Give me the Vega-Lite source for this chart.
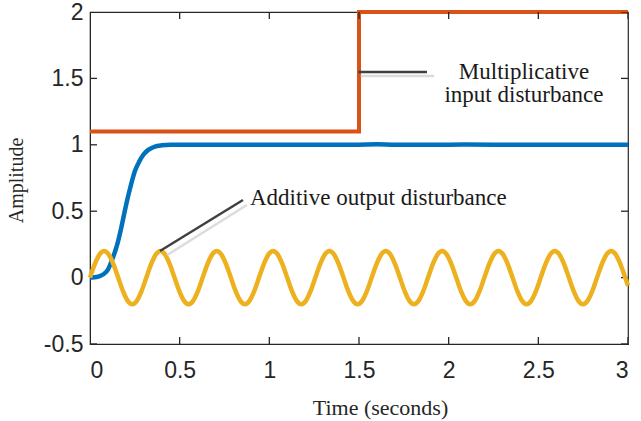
{
  "$schema": "https://vega.github.io/schema/vega-lite/v6.json",
  "width": 538,
  "height": 332,
  "autosize": "none",
  "padding": {"left": 90, "top": 12, "right": 13, "bottom": 77},
  "background": "white",
  "config": {
    "view": {"stroke": "#262626", "strokeWidth": 1.2}
  },
  "datasets": {
    "step": [{"t": 0, "y": 1.1}, {"t": 1.5, "y": 2}, {"t": 3, "y": 2}],
    "resp": [
      {"t": 0, "y": 0}, {"t": 0.025, "y": 0.002}, {"t": 0.05, "y": 0.01}, {"t": 0.075, "y": 0.025},
      {"t": 0.1, "y": 0.06}, {"t": 0.125, "y": 0.14}, {"t": 0.15, "y": 0.24}, {"t": 0.175, "y": 0.38},
      {"t": 0.2, "y": 0.54}, {"t": 0.225, "y": 0.68}, {"t": 0.25, "y": 0.8}, {"t": 0.275, "y": 0.875},
      {"t": 0.3, "y": 0.93}, {"t": 0.325, "y": 0.962}, {"t": 0.35, "y": 0.98}, {"t": 0.375, "y": 0.991},
      {"t": 0.4, "y": 0.996}, {"t": 0.45, "y": 1.0}, {"t": 0.6, "y": 1.001}, {"t": 0.8, "y": 1.0},
      {"t": 1.0, "y": 1.001}, {"t": 1.2, "y": 1.0}, {"t": 1.4, "y": 1.0}, {"t": 1.5, "y": 1.001},
      {"t": 1.6, "y": 1.004}, {"t": 1.7, "y": 1.0}, {"t": 1.9, "y": 1.0}, {"t": 2.1, "y": 1.002},
      {"t": 2.4, "y": 1.0}, {"t": 2.7, "y": 1.001}, {"t": 3.0, "y": 1.0}
    ],
    "sine": [
      {"t": 0, "y": 0}, {"t": 0.0262, "y": 0.1}, {"t": 0.0524, "y": 0.1732}, {"t": 0.0785, "y": 0.2}, {"t": 0.1047, "y": 0.1732}, {"t": 0.1309, "y": 0.1},
      {"t": 0.1571, "y": 0}, {"t": 0.1833, "y": -0.1}, {"t": 0.2094, "y": -0.1732}, {"t": 0.2356, "y": -0.2}, {"t": 0.2618, "y": -0.1732}, {"t": 0.288, "y": -0.1},
      {"t": 0.3142, "y": 0}, {"t": 0.3403, "y": 0.1}, {"t": 0.3665, "y": 0.1732}, {"t": 0.3927, "y": 0.2}, {"t": 0.4189, "y": 0.1732}, {"t": 0.4451, "y": 0.1},
      {"t": 0.4712, "y": 0}, {"t": 0.4974, "y": -0.1}, {"t": 0.5236, "y": -0.1732}, {"t": 0.5498, "y": -0.2}, {"t": 0.576, "y": -0.1732}, {"t": 0.6021, "y": -0.1},
      {"t": 0.6283, "y": 0}, {"t": 0.6545, "y": 0.1}, {"t": 0.6807, "y": 0.1732}, {"t": 0.7069, "y": 0.2}, {"t": 0.733, "y": 0.1732}, {"t": 0.7592, "y": 0.1},
      {"t": 0.7854, "y": 0}, {"t": 0.8116, "y": -0.1}, {"t": 0.8378, "y": -0.1732}, {"t": 0.8639, "y": -0.2}, {"t": 0.8901, "y": -0.1732}, {"t": 0.9163, "y": -0.1},
      {"t": 0.9425, "y": 0}, {"t": 0.9687, "y": 0.1}, {"t": 0.9948, "y": 0.1732}, {"t": 1.021, "y": 0.2}, {"t": 1.0472, "y": 0.1732}, {"t": 1.0734, "y": 0.1},
      {"t": 1.0996, "y": 0}, {"t": 1.1257, "y": -0.1}, {"t": 1.1519, "y": -0.1732}, {"t": 1.1781, "y": -0.2}, {"t": 1.2043, "y": -0.1732}, {"t": 1.2305, "y": -0.1},
      {"t": 1.2566, "y": 0}, {"t": 1.2828, "y": 0.1}, {"t": 1.309, "y": 0.1732}, {"t": 1.3352, "y": 0.2}, {"t": 1.3614, "y": 0.1732}, {"t": 1.3875, "y": 0.1},
      {"t": 1.4137, "y": 0}, {"t": 1.4399, "y": -0.1}, {"t": 1.4661, "y": -0.1732}, {"t": 1.4923, "y": -0.2}, {"t": 1.5184, "y": -0.1732}, {"t": 1.5446, "y": -0.1},
      {"t": 1.5708, "y": 0}, {"t": 1.597, "y": 0.1}, {"t": 1.6232, "y": 0.1732}, {"t": 1.6493, "y": 0.2}, {"t": 1.6755, "y": 0.1732}, {"t": 1.7017, "y": 0.1},
      {"t": 1.7279, "y": 0}, {"t": 1.7541, "y": -0.1}, {"t": 1.7802, "y": -0.1732}, {"t": 1.8064, "y": -0.2}, {"t": 1.8326, "y": -0.1732}, {"t": 1.8588, "y": -0.1},
      {"t": 1.885, "y": 0}, {"t": 1.9111, "y": 0.1}, {"t": 1.9373, "y": 0.1732}, {"t": 1.9635, "y": 0.2}, {"t": 1.9897, "y": 0.1732}, {"t": 2.0159, "y": 0.1},
      {"t": 2.042, "y": 0}, {"t": 2.0682, "y": -0.1}, {"t": 2.0944, "y": -0.1732}, {"t": 2.1206, "y": -0.2}, {"t": 2.1468, "y": -0.1732}, {"t": 2.1729, "y": -0.1},
      {"t": 2.1991, "y": 0}, {"t": 2.2253, "y": 0.1}, {"t": 2.2515, "y": 0.1732}, {"t": 2.2777, "y": 0.2}, {"t": 2.3038, "y": 0.1732}, {"t": 2.33, "y": 0.1},
      {"t": 2.3562, "y": 0}, {"t": 2.3824, "y": -0.1}, {"t": 2.4086, "y": -0.1732}, {"t": 2.4347, "y": -0.2}, {"t": 2.4609, "y": -0.1732}, {"t": 2.4871, "y": -0.1},
      {"t": 2.5133, "y": 0}, {"t": 2.5395, "y": 0.1}, {"t": 2.5656, "y": 0.1732}, {"t": 2.5918, "y": 0.2}, {"t": 2.618, "y": 0.1732}, {"t": 2.6442, "y": 0.1},
      {"t": 2.6704, "y": 0}, {"t": 2.6965, "y": -0.1}, {"t": 2.7227, "y": -0.1732}, {"t": 2.7489, "y": -0.2}, {"t": 2.7751, "y": -0.1732}, {"t": 2.8013, "y": -0.1},
      {"t": 2.8274, "y": 0}, {"t": 2.8536, "y": 0.1}, {"t": 2.8798, "y": 0.1732}, {"t": 2.906, "y": 0.2}, {"t": 2.9322, "y": 0.1732}, {"t": 2.9583, "y": 0.1},
      {"t": 2.9845, "y": 0}, {"t": 3.0, "y": -0.061}
    ],
    "shadows": [
      {"t": 1.51, "y": 1.518, "t2": 1.92, "y2": 1.518},
      {"t": 0.43, "y": 0.17, "t2": 0.875, "y2": 0.547}
    ],
    "pointers": [
      {"t": 1.496, "y": 1.548, "t2": 1.879, "y2": 1.548},
      {"t": 0.39, "y": 0.2, "t2": 0.853, "y2": 0.584}
    ],
    "labelsC": [{"t": 2.42, "y": 1.548, "label": "Multiplicative\ninput disturbance"}],
    "labelsL": [{"t": 0.892, "y": 0.6, "label": "Additive output disturbance"}],
    "xticks": [{"v": 0}, {"v": 0.5}, {"v": 1}, {"v": 1.5}, {"v": 2}, {"v": 2.5}, {"v": 3}],
    "yticks": [{"v": -0.5}, {"v": 0}, {"v": 0.5}, {"v": 1}, {"v": 1.5}, {"v": 2}]
  },
  "layer": [
    {
      "data": {"name": "step"},
      "mark": {"type": "line", "color": "#D95319", "strokeWidth": 4, "interpolate": "step-after"},
      "encoding": {
        "x": {
          "field": "t", "type": "quantitative",
          "scale": {"domain": [0, 3], "nice": false, "zero": false},
          "axis": {
            "orient": "bottom",
            "values": [0, 0.5, 1, 1.5, 2, 2.5, 3],
            "labelExpr": "toString(datum.value)",
            "grid": false,
            "domainColor": "#262626",
            "ticks": false,
            "tickSize": 0,
            "labelPadding": 15,
            "labelFont": "Liberation Sans",
            "labelFontSize": 23,
            "labelColor": "#262626",
            "title": "Time (seconds)",
            "titleFont": "Liberation Serif",
            "titleFontWeight": "normal",
            "titleColor": "#262626",
            "titleFontSize": 22,
            "titleX": 290,
            "titleY": 63,
            "titleBaseline": "middle"
          }
        },
        "y": {
          "field": "y", "type": "quantitative",
          "scale": {"domain": [-0.5, 2], "nice": false, "zero": false},
          "axis": {
            "orient": "left",
            "values": [-0.5, 0, 0.5, 1, 1.5, 2],
            "labelExpr": "toString(datum.value)",
            "grid": false,
            "domainColor": "#262626",
            "ticks": false,
            "tickSize": 0,
            "labelPadding": 7,
            "labelFont": "Liberation Sans",
            "labelFontSize": 23,
            "labelColor": "#262626",
            "title": "Amplitude",
            "titleFont": "Liberation Serif",
            "titleFontWeight": "normal",
            "titleColor": "#262626",
            "titleFontSize": 20,
            "titleX": -74,
            "titleY": 168,
            "titleAngle": -90,
            "titleAlign": "center",
            "titleBaseline": "middle"
          }
        }
      }
    },
    {
      "data": {"name": "xticks"},
      "mark": {"type": "tick", "orient": "vertical", "size": 14, "thickness": 1.3, "color": "#262626", "opacity": 1, "clip": true},
      "encoding": {
        "x": {"field": "v", "type": "quantitative"},
        "y": {"datum": -0.5, "type": "quantitative"}
      }
    },
    {
      "data": {"name": "xticks"},
      "mark": {"type": "tick", "orient": "vertical", "size": 14, "thickness": 1.3, "color": "#262626", "opacity": 1, "clip": true},
      "encoding": {
        "x": {"field": "v", "type": "quantitative"},
        "y": {"datum": 2, "type": "quantitative"}
      }
    },
    {
      "data": {"name": "yticks"},
      "mark": {"type": "tick", "orient": "horizontal", "size": 14, "thickness": 1.3, "color": "#262626", "opacity": 1, "clip": true},
      "encoding": {
        "y": {"field": "v", "type": "quantitative"},
        "x": {"datum": 0, "type": "quantitative"}
      }
    },
    {
      "data": {"name": "yticks"},
      "mark": {"type": "tick", "orient": "horizontal", "size": 14, "thickness": 1.3, "color": "#262626", "opacity": 1, "clip": true},
      "encoding": {
        "y": {"field": "v", "type": "quantitative"},
        "x": {"datum": 3, "type": "quantitative"}
      }
    },
    {
      "data": {"name": "resp"},
      "mark": {"type": "line", "color": "#0072BD", "strokeWidth": 4.5, "interpolate": "monotone"},
      "encoding": {
        "x": {"field": "t", "type": "quantitative"},
        "y": {"field": "y", "type": "quantitative"}
      }
    },
    {
      "data": {"name": "sine"},
      "mark": {"type": "line", "color": "#EDB120", "strokeWidth": 4.5, "interpolate": "monotone"},
      "encoding": {
        "x": {"field": "t", "type": "quantitative"},
        "y": {"field": "y", "type": "quantitative"}
      }
    },
    {
      "data": {"name": "shadows"},
      "mark": {"type": "rule", "color": "#dcdcdc", "strokeWidth": 2.5},
      "encoding": {
        "x": {"field": "t", "type": "quantitative"},
        "y": {"field": "y", "type": "quantitative"},
        "x2": {"field": "t2"},
        "y2": {"field": "y2"}
      }
    },
    {
      "data": {"name": "pointers"},
      "mark": {"type": "rule", "color": "#404040", "strokeWidth": 2.5},
      "encoding": {
        "x": {"field": "t", "type": "quantitative"},
        "y": {"field": "y", "type": "quantitative"},
        "x2": {"field": "t2"},
        "y2": {"field": "y2"}
      }
    },
    {
      "data": {"name": "labelsC"},
      "mark": {"type": "text", "font": "Liberation Serif", "fontSize": 23, "color": "#1a1a1a", "align": "center", "baseline": "middle", "lineBreak": "\n", "lineHeight": 23},
      "encoding": {
        "x": {"field": "t", "type": "quantitative"},
        "y": {"field": "y", "type": "quantitative"},
        "text": {"field": "label"}
      }
    },
    {
      "data": {"name": "labelsL"},
      "mark": {"type": "text", "font": "Liberation Serif", "fontSize": 23, "color": "#1a1a1a", "align": "left", "baseline": "middle"},
      "encoding": {
        "x": {"field": "t", "type": "quantitative"},
        "y": {"field": "y", "type": "quantitative"},
        "text": {"field": "label"}
      }
    }
  ]
}
